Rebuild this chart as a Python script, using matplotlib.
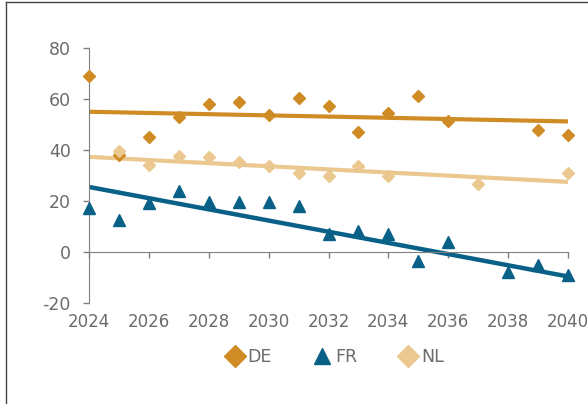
import matplotlib
matplotlib.use('Agg')
import matplotlib.pyplot as plt
from matplotlib.lines import Line2D

plt.rcParams['axes.unicode_minus'] = False

# Yearly observations per country
de_years = [2024, 2025, 2026, 2027, 2028, 2029, 2030, 2031, 2032,
            2033, 2034, 2035, 2036, 2039, 2040]
de_vals = [69.0, 38.0, 45.2, 52.8, 58.0, 58.8, 53.6, 60.4, 57.1,
           46.9, 54.7, 61.3, 51.2, 47.8, 46.0]

fr_years = [2024, 2025, 2026, 2027, 2028, 2029, 2030, 2031, 2032,
            2033, 2034, 2035, 2036, 2038, 2039, 2040]
fr_vals = [17.3, 12.4, 19.2, 24.0, 19.6, 19.6, 19.6, 17.9, 7.2,
           8.1, 7.2, -3.7, 3.9, -7.8, -5.0, -9.2]

nl_years = [2025, 2026, 2027, 2028, 2029, 2030, 2031, 2032, 2033,
            2034, 2037, 2040]
nl_vals = [39.5, 34.2, 37.8, 37.1, 35.4, 33.6, 31.0, 29.9, 33.8,
           29.9, 26.5, 31.0]

# Linear trends (value at 2024 and 2040)
trend_years = [2024, 2040]
de_trend = [55.0, 51.2]
fr_trend = [25.5, -9.6]
nl_trend = [37.3, 27.5]

c_de = '#CF8B24'
c_fr = '#0A6188'
c_nl = '#EBC890'
c_txt = '#6b6b6b'
c_axis = '#808080'

fig = plt.figure(figsize=(5.88, 4.04), dpi=100)
ax = fig.add_axes([89 / 588, 1 - 303 / 404, 479 / 588, 255 / 404])

ax.plot(trend_years, de_trend, c=c_de, lw=3, solid_capstyle='butt', zorder=2)
ax.plot(trend_years, nl_trend, c=c_nl, lw=3, solid_capstyle='butt', zorder=2)
ax.plot(trend_years, fr_trend, c=c_fr, lw=3.2, solid_capstyle='butt', zorder=2)

ax.plot(de_years, de_vals, ls='none', marker='D', ms=6.3, c=c_de,
        clip_on=False, zorder=3)
ax.plot(nl_years, nl_vals, ls='none', marker='D', ms=6.3, c=c_nl,
        clip_on=False, zorder=3)
ax.plot(fr_years, fr_vals, ls='none', marker='^', ms=8, c=c_fr,
        clip_on=False, zorder=3)

ax.set_xlim(2024, 2040)
ax.set_ylim(-20, 80)
ax.set_xticks(range(2024, 2041, 2))
ax.set_yticks(range(-20, 81, 20))

for s in ['top', 'right']:
    ax.spines[s].set_visible(False)
ax.spines['bottom'].set_position(('data', 0))
ax.spines['left'].set_color(c_axis)
ax.spines['bottom'].set_color(c_axis)

ax.tick_params(axis='y', direction='out', length=4, width=1, color=c_axis,
               labelcolor=c_txt, labelsize=12.5, pad=9)
ax.tick_params(axis='x', direction='out', length=4, width=1, color=c_axis,
               labelcolor=c_txt, labelsize=12, pad=40)

handles = [
    Line2D([], [], ls='none', marker='D', ms=11, c=c_de, label='DE'),
    Line2D([], [], ls='none', marker='^', ms=12, c=c_fr, label='FR'),
    Line2D([], [], ls='none', marker='D', ms=11, c=c_nl, label='NL'),
]
leg = fig.legend(handles=handles, loc='center', ncol=3, frameon=False,
                 bbox_to_anchor=(334 / 588, 1 - 357 / 404), fontsize=12.5,
                 handletextpad=0.15, columnspacing=2.3, handlelength=1.2)
for t in leg.get_texts():
    t.set_color(c_txt)

# outer frame lines
fig.add_artist(Line2D([6 / 588, 1], [1 - 2 / 404, 1 - 2 / 404],
                      transform=fig.transFigure, c='#444444', lw=1))
fig.add_artist(Line2D([6 / 588, 6 / 588], [0, 1 - 2 / 404],
                      transform=fig.transFigure, c='#444444', lw=1))

fig.savefig('out.png', dpi=100)
